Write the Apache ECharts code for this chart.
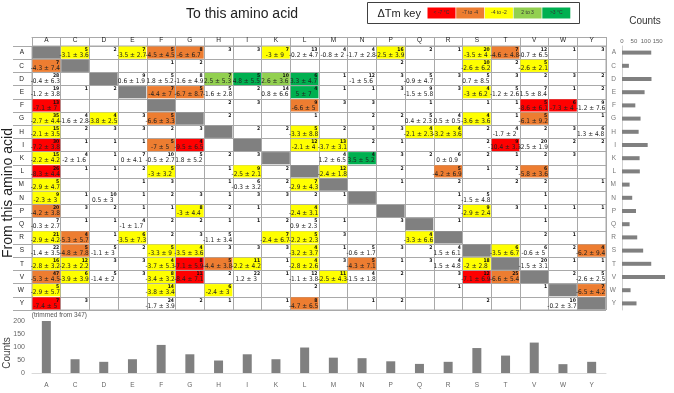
<!DOCTYPE html>
<html>
<head>
<meta charset="utf-8">
<script src="https://cdn.jsdelivr.net/npm/echarts@6/dist/echarts.min.js"></script>
<style>
  html, body { margin: 0; padding: 0; background: #fff; }
  #chart { width: 674px; height: 393px; }
</style>
</head>
<body>
<div id="chart"></div>
<script>
const _ = null;
const aminoAcids = ['A','C','D','E','F','G','H','I','K','L','M','N','P','Q','R','S','T','V','W','Y'];

// number of mutations, row = from, column = to (0 = none, diagonal unused)
const counts = [
  [0, 5, 2, 7, 5, 8, 3, 3, 7,13, 4, 4,16, 2, 1,20, 7,12, 1, 3],
  [7, 0, 0, 0, 1, 2, 0, 0, 0, 0, 0, 0, 2, 0, 0,10, 2, 5, 0, 0],
  [28,0, 0, 9, 5, 8, 7, 5,10, 6, 1,12, 3, 5, 3, 5, 3, 2, 3, 2],
  [19,1, 2, 0, 7, 5, 5, 2,14, 4, 1, 1, 3, 9, 3, 4, 5, 7, 1, 2],
  [13,0, 0, 0, 0, 0, 2, 3, 0, 9, 3, 3, 0, 1, 0, 1, 1, 5, 6, 9],
  [35,4, 4, 3, 5, 0, 2, 0, 0, 1, 0, 2, 2, 5, 4, 4, 1, 5, 0, 1],
  [15,2, 3, 3, 2, 3, 0, 2, 2, 5, 2, 3, 3, 4, 4, 2, 4, 2, 3, 6],
  [30,1, 1, 1, 5, 4, 0, 0, 0,12,13, 2, 1, 0, 0, 2, 9,20, 2, 2],
  [15,4, 1, 7,10, 5, 2, 3, 0, 0, 4, 4, 3, 2, 6, 2, 1, 2, 3, 0],
  [26,1, 1, 2, 5, 0, 1, 9, 2, 0,12, 0, 2, 0, 5, 1, 2, 6, 0, 0],
  [5, 0, 0, 1, 3, 0, 1, 6, 2, 7, 0, 0, 1, 0, 2, 0, 2, 2, 0, 1],
  [9, 1,10, 1, 2, 3, 1, 3, 3, 2, 1, 0, 0, 0, 1, 5, 0, 1, 0, 0],
  [20,3, 2, 1, 1, 8, 2, 1, 0, 4, 0, 0, 0, 0, 2, 9, 3, 1, 1, 1],
  [7, 1, 1, 4, 2, 2, 1, 1, 2, 5, 1, 0, 3, 0, 1, 0, 0, 1, 0, 0],
  [21,4, 1, 6, 2, 3, 5, 0, 7, 5, 3, 0, 0, 4, 0, 0, 0, 2, 1, 0],
  [22,5, 5, 2, 5, 4, 3, 3, 3, 4, 1, 5, 3, 2, 4, 0, 6, 6, 2, 4],
  [16,12,3, 3, 4, 8, 5,11, 1, 4, 3, 5, 1, 3, 4,18, 0,20, 1, 1],
  [47,6, 5, 3, 8,11, 2,22, 1,12,11, 4, 2, 0, 3,12,25, 0, 2, 5],
  [5, 0, 0, 0,14, 0, 6, 0, 0, 2, 0, 0, 0, 0, 1, 0, 0, 1, 0, 7],
  [7, 3, 0, 0,24, 2, 1, 0, 1, 8, 0, 1, 2, 0, 0, 2, 0, 0,10, 0]
];

// mean dTm (°C)
const meanTm = [
  [_, -3.1, _, -3.5, -4.5, -6, _, _, -3, -0.2, -0.8, -1.7, -2.5, _, _, -3.5, -4.6, -0.7, _, _],
  [-4.3, _, _, _, _, _, _, _, _, _, _, _, _, _, _, -2.6, _, -2.6, _, _],
  [-0.4, _, _, 0.6, 1.8, -1.6, 2.5, 4.8, 2.6, 3.3, _, -1, _, -0.9, _, 0.7, _, _, _, _],
  [-1.2, _, _, _, -4.4, -6.7, -1.6, _, 0.8, 5, _, _, _, -1.5, _, -3, -1.2, 1.5, _, _],
  [-7.1, _, _, _, _, _, _, _, _, -6.6, _, _, _, _, _, _, _, -8.6, -7.3, -1.2],
  [-2.7, -1.6, -3.8, _, -6.6, _, _, _, _, _, _, _, _, 0.4, 0.5, -3.6, _, -6.1, _, _],
  [-2.1, _, _, _, _, _, _, _, _, -3.3, _, _, _, -2.1, -3.2, _, -1.7, _, _, 1.3],
  [-7.2, _, _, _, -7, -9.5, _, _, _, -2.1, -3.7, _, _, _, _, _, -10.4, -2.5, _, _],
  [-2.2, -2, _, 0, -0.5, 1.8, _, _, _, _, 1.2, 3.5, _, _, 0, _, _, _, _, _],
  [-8.3, _, _, _, -3, _, _, -2.5, _, _, -2.4, _, _, _, -4.2, _, _, -5.8, _, _],
  [-2.9, _, _, _, _, _, _, -0.3, _, -2.9, _, _, _, _, _, _, _, _, _, _],
  [-2.3, _, 0.5, _, _, _, _, _, _, _, _, _, _, _, _, -1.5, _, _, _, _],
  [-4.2, _, _, _, _, -3, _, _, _, -2.4, _, _, _, _, _, -2.9, _, _, _, _],
  [-0.3, _, _, -1, _, _, _, _, _, 0.9, _, _, _, _, _, _, _, _, _, _],
  [-2.9, -5.3, _, -3.5, _, _, -1.1, _, -2.4, -2.2, _, _, _, -3.3, _, _, _, _, _, _],
  [-1.4, -4.8, -1.1, _, -3.3, -3.5, _, _, _, -3.2, _, -0.6, _, _, 1.5, _, -3.5, -0.6, _, -6.2],
  [-2.8, -2.3, _, _, -3.7, -7.1, -4.4, -2.2, _, -2.8, _, -4.3, _, _, 1.5, -2, _, -1.5, _, _],
  [-5.3, -3.9, -1.4, _, -3.4, -8.4, _, 1.2, _, -1.1, -2.5, -1.5, _, _, _, -7.1, -6.6, _, _, -2.6],
  [-2.9, _, _, _, -3.8, _, -2.4, _, _, _, _, _, _, _, _, _, _, _, _, -6.5],
  [-7.4, _, _, _, -1.7, _, _, _, _, -4.7, _, _, _, _, _, _, _, _, -0.2, _]
];

// standard deviation of dTm
const sdTm = [
  [_, 3.6, _, 2.7, 4.5, 6.7, _, _, 9, 4.7, 2, 2.8, 3.9, _, _, 4, 4.8, 6.5, _, _],
  [7.4, _, _, _, _, _, _, _, _, _, _, _, _, _, _, 6.2, _, 2.1, _, _],
  [6.3, _, _, 1.9, 5.2, 4.9, 5.3, 5.5, 3.6, 4.7, _, 5.6, _, 4.7, _, 8.5, _, _, _, _],
  [3.8, _, _, _, 7, 8.7, 2.8, _, 6.6, 7, _, _, _, 5.8, _, 6.2, 2.6, 8.4, _, _],
  [7, _, _, _, _, _, _, _, _, 5, _, _, _, _, _, _, _, 6.1, 4, 7.6],
  [4.4, 2.8, 2.5, _, 3.3, _, _, _, _, _, _, _, _, 2.3, 0.5, 3.6, _, 9.2, _, _],
  [3.5, _, _, _, _, _, _, _, _, 8.8, _, _, _, 2.3, 3.6, _, 2, _, _, 4.8],
  [3.8, _, _, _, 5, 6.5, _, _, _, 4, 3.1, _, _, _, _, _, 3.3, 1.9, _, _],
  [4.2, 1.6, _, 4.1, 2.7, 5.2, _, _, _, _, 6.5, 5.2, _, _, 0.9, _, _, _, _, _],
  [4.4, _, _, _, 3.2, _, _, 2.1, _, _, 1.8, _, _, _, 6.9, _, _, 3.6, _, _],
  [4.7, _, _, _, _, _, _, 3.2, _, 4.3, _, _, _, _, _, _, _, _, _, _],
  [3, _, 3, _, _, _, _, _, _, _, _, _, _, _, _, 4.8, _, _, _, _],
  [3.8, _, _, _, _, 4.4, _, _, _, 3.1, _, _, _, _, _, 2.4, _, _, _, _],
  [2.7, _, _, 1.7, _, _, _, _, _, 2.3, _, _, _, _, _, _, _, _, _, _],
  [4.2, 5.7, _, 7.3, _, _, 3.4, _, 6.7, 2.3, _, _, _, 6.6, _, _, _, _, _, _],
  [3.5, 7.8, 3, _, 9, 3.6, _, _, _, 3.7, _, 1.7, _, _, 6.1, _, 6.7, 5, _, 9.4],
  [3.2, 2.2, _, _, 5.3, 5.9, 3.8, 4.2, _, 2.6, _, 7.1, _, _, 4.8, 2.8, _, 3.1, _, _],
  [4.5, 3.9, 2, _, 3.2, 7.1, _, 3, _, 3.8, 4.3, 1.8, _, _, _, 6.9, 5.4, _, _, 2.5],
  [5.7, _, _, _, 3.4, _, 3, _, _, _, _, _, _, _, _, _, _, _, _, 4.2],
  [5, _, _, _, 3.9, _, _, _, _, 6.5, _, _, _, _, _, _, _, _, 3.7, _]
];

// cells left without shading in the source table [from, to]
const unshadedCells = [['K','C'], ['I','V'], ['V','Y']];

// totals: from each amino acid (right) and to each amino acid (bottom)
const fromCounts = [123, 29, 124, 95, 56, 78, 70, 108, 74, 75, 32, 43, 59, 32, 64, 89, 123, 181, 36, 61];
const toCounts = [347, 53, 43, 53, 108, 72, 48, 72, 53, 98, 59, 57, 45, 35, 43, 96, 67, 117, 34, 43];
const toCountsCap = 200;

const keyLabels = ['< -7 °C', '-7 to -4', '-4 to -2', '2 to 3', '>3 °C'];
const keyColors = ['#ff0000', '#ed7d31', '#ffff00', '#92d050', '#00b050'];

function shadeIndex(m) {
  if (m == null) return -1;
  if (m < -7) return 0;
  if (m < -4) return 1;
  if (m <= -2) return 2;
  if (m > 3) return 4;
  if (m >= 2) return 3;
  return -1;
}
function fmt(v) {
  return String(Math.round(v * 10) / 10);
}

var myChart = echarts.init(document.getElementById('chart'));
let lineColor = '#a9a9a9';
let cellFont = '"Liberation Sans Narrow", "DejaVu Sans Condensed", "Liberation Sans", sans-serif';
let labelFont = '"Liberation Sans", sans-serif';

let cellData = [];
aminoAcids.forEach((from, r) => {
  aminoAcids.forEach((to, c) => {
    cellData.push([c, r]);
  });
});

let keyGraphic = [{
  type: 'rect', shape: { x: 0, y: 0, width: 212, height: 21 },
  style: { fill: '#fff', stroke: '#404040', lineWidth: 1 }
}, {
  type: 'text', x: 10, y: 11,
  style: { text: 'ΔTm key', fontSize: 11, fontFamily: labelFont, fill: '#222', verticalAlign: 'middle' }
}];
keyLabels.forEach((lab, i) => {
  keyGraphic.push({
    type: 'rect', shape: { x: 60 + i * 28.7, y: 5, width: 28, height: 11 },
    style: { fill: keyColors[i] }
  });
  keyGraphic.push({
    type: 'text', x: 74 + i * 28.7, y: 10.5,
    style: { text: lab, fontSize: 5, fontFamily: labelFont, fill: '#333', align: 'center', verticalAlign: 'middle' }
  });
});

var option = {
  backgroundColor: '#fff',
  animation: false,
  textStyle: { fontFamily: labelFont },
  grid: [
    { left: 32, top: 46, width: 574, height: 264, show: true, borderColor: lineColor, borderWidth: 1 },
    { left: 622, top: 46, width: 52, height: 264 },
    { left: 32, top: 321, width: 574, height: 52 }
  ],
  xAxis: [
    {
      gridIndex: 0, type: 'category', data: aminoAcids, position: 'top',
      axisLine: { show: true, lineStyle: { color: lineColor } },
      axisTick: { show: true, length: 9, interval: 0, lineStyle: { color: lineColor } },
      axisLabel: { interval: 0, fontSize: 6.5, color: '#222', margin: 2 },
      splitLine: { show: true, interval: 0, lineStyle: { color: lineColor, width: 1 } }
    },
    {
      gridIndex: 0, type: 'category', data: aminoAcids, position: 'top', offset: 9,
      axisLine: { show: true, lineStyle: { color: lineColor } },
      axisTick: { show: false }, axisLabel: { show: false }, splitLine: { show: false }
    },
    {
      gridIndex: 1, type: 'value', position: 'top', min: 0, max: 185, interval: 50,
      axisLine: { show: false }, axisTick: { show: false }, splitLine: { show: false },
      axisLabel: { fontSize: 6, color: '#666', margin: 2 }
    },
    {
      gridIndex: 2, type: 'category', data: aminoAcids,
      axisLine: { show: true, lineStyle: { color: '#d9d9d9' } },
      axisTick: { show: false },
      axisLabel: { interval: 0, fontSize: 6.5, color: '#666', margin: 9 }
    }
  ],
  yAxis: [
    {
      gridIndex: 0, type: 'category', data: aminoAcids, inverse: true,
      axisLine: { show: true, lineStyle: { color: lineColor } },
      axisTick: { show: true, length: 19, interval: 0, lineStyle: { color: lineColor } },
      axisLabel: { interval: 0, fontSize: 6.5, color: '#222', margin: 8 },
      splitLine: { show: true, interval: 0, lineStyle: { color: lineColor, width: 1 } }
    },
    {
      gridIndex: 1, type: 'category', data: aminoAcids, inverse: true,
      axisLine: { show: true, lineStyle: { color: '#d0d0d0' } },
      axisTick: { show: false },
      axisLabel: { interval: 0, fontSize: 6.5, color: '#777', margin: 6 }
    },
    {
      gridIndex: 2, type: 'value', min: 0, max: 200, interval: 50,
      axisLine: { show: false }, axisTick: { show: false }, splitLine: { show: false },
      axisLabel: { fontSize: 7, color: '#666', margin: 7 }
    }
  ],
  graphic: [
    {
      type: 'text', x: 242, y: 14,
      style: { text: 'To this amino acid', fontSize: 14, fontFamily: labelFont, fill: '#222', align: 'center', verticalAlign: 'middle' }
    },
    {
      type: 'text', x: 8, y: 193, rotation: Math.PI / 2,
      style: { text: 'From this amino acid', fontSize: 14, fontFamily: labelFont, fill: '#222', align: 'center', verticalAlign: 'middle' }
    },
    {
      type: 'text', x: 7, y: 353, rotation: Math.PI / 2,
      style: { text: 'Counts', fontSize: 10, fontFamily: labelFont, fill: '#444', align: 'center', verticalAlign: 'middle' }
    },
    {
      type: 'text', x: 645, y: 21,
      style: { text: 'Counts', fontSize: 10, fontFamily: labelFont, fill: '#333', align: 'center', verticalAlign: 'middle' }
    },
    { type: 'group', left: 367, top: 2, children: keyGraphic }
  ],
  series: [
    {
      type: 'custom',
      xAxisIndex: 0, yAxisIndex: 0,
      data: cellData,
      renderItem: function (params, api) {
        const c = api.value(0), r = api.value(1);
        const p = api.coord([c, r]);
        const s = api.size([1, 1]);
        const x0 = p[0] - s[0] / 2, y0 = p[1] - s[1] / 2;
        const children = [];
        if (r === c) {
          children.push({
            type: 'rect', shape: { x: x0 + 0.5, y: y0 + 0.5, width: s[0] - 1, height: s[1] - 1 },
            style: { fill: '#808080' }
          });
          return { type: 'group', children: children };
        }
        const n = counts[r][c];
        const m = meanTm[r][c];
        const sd = sdTm[r][c];
        let k = shadeIndex(m);
        if (unshadedCells.some(u => u[0] === aminoAcids[r] && u[1] === aminoAcids[c])) k = -1;
        if (k >= 0) {
          children.push({
            type: 'rect', shape: { x: x0 + 0.5, y: y0 + 0.5, width: s[0] - 1, height: s[1] - 1 },
            style: { fill: keyColors[k] }
          });
        }
        if (n) {
          children.push({
            type: 'text',
            style: {
              text: String(n), x: x0 + s[0] - 1.5, y: y0 + 1,
              align: 'right', verticalAlign: 'top',
              fontSize: 5, fontWeight: 'bold', fontFamily: cellFont, fill: '#111'
            }
          });
        }
        if (m != null) {
          children.push({
            type: 'text',
            style: {
              text: fmt(m) + ' ± ' + fmt(sd), x: p[0] - 1, y: y0 + s[1] - 0.5,
              align: 'center', verticalAlign: 'bottom',
              fontSize: 6.5, fontFamily: cellFont, fill: '#222'
            }
          });
        }
        return { type: 'group', children: children };
      }
    },
    {
      type: 'bar',
      xAxisIndex: 2, yAxisIndex: 1,
      data: fromCounts,
      barWidth: 4,
      itemStyle: { color: '#808080' }
    },
    {
      type: 'bar',
      xAxisIndex: 3, yAxisIndex: 2,
      data: toCounts.map(v => v > toCountsCap ? {
        value: toCountsCap,
        label: {
          show: true, position: 'top', distance: 2, offset: [13, 0],
          formatter: '(trimmed from ' + v + ')', fontSize: 6.5, color: '#555'
        }
      } : v),
      barWidth: 9,
      itemStyle: { color: '#808080' }
    }
  ]
};

myChart.setOption(option);
window.addEventListener('resize', function () {
  myChart.resize();
});
</script>
</body>
</html>
